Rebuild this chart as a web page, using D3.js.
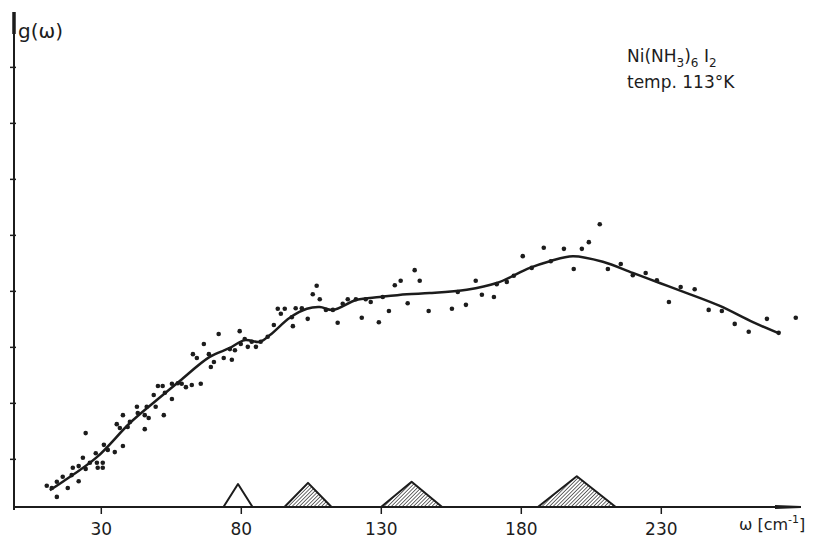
<!DOCTYPE html>
<html>
<head>
<meta charset="utf-8">
<script src="https://cdn.jsdelivr.net/npm/d3@7"></script>
<style>
  body { margin: 0; background: #fff; }
  text { font-family: "DejaVu Sans", sans-serif; fill: #1c1c1c; }
</style>
</head>
<body>
<div id="chart"></div>
<script>
// smoothed g(omega) curve
const curveOmega = [11.8, 16.4, 28.6, 40.4, 50.0, 58.2, 68.9, 76.1, 81.4, 86.8, 90.4, 97.5, 103.6, 108.2, 112.9,
  121.4, 129.6, 139.3, 147.5, 160.7, 171.4, 183.2, 190.4, 198.6, 209.3, 220.0, 229.6, 239.3, 251.1, 262.9, 271.8];
const curveG = [0.30, 0.45, 0.89, 1.50, 1.91, 2.25, 2.68, 2.84, 2.98, 2.95, 3.07, 3.38, 3.54, 3.57, 3.52,
  3.70, 3.75, 3.80, 3.82, 3.88, 4.00, 4.27, 4.39, 4.48, 4.38, 4.18, 4.00, 3.82, 3.59, 3.30, 3.11];

// measured points
const pointOmega = [10.7, 12.5, 14.3, 14.3, 16.4, 18.2, 20.0, 19.6, 22.1, 22.1, 23.6, 24.6, 24.6, 26.1, 28.2, 28.6,
  28.9, 30.7, 30.7, 31.1, 32.5, 35.0, 35.7, 36.8, 37.9, 37.9, 39.6, 40.4, 42.9, 43.2, 45.7, 45.7, 46.4, 47.1,
  48.9, 49.6, 50.4, 52.1, 52.9, 52.5, 55.4, 55.4, 57.5,
  58.9, 60.4, 62.5, 65.7, 62.9, 64.3, 66.8, 68.6, 69.3, 70.4, 72.1, 73.9, 76.8, 76.1, 77.9, 79.6, 80.0, 81.4,
  82.5, 83.9, 85.4, 87.1, 89.6, 91.8, 93.2, 94.3, 95.7, 98.6, 98.2, 99.6, 101.8, 103.9, 105.7, 107.1, 108.2,
  110.4, 112.9, 114.6, 116.4, 118.2, 121.1, 123.2, 124.6, 126.4, 129.3, 130.7, 132.9, 135.0, 137.1, 139.6,
  142.1, 143.9, 147.1,
  155.4, 157.5, 160.4, 163.9, 166.1, 170.4, 171.4, 175.0, 177.5, 180.7, 183.9, 188.2, 190.7, 195.4, 198.9,
  201.8, 204.3, 208.2, 211.1, 215.7, 220.0, 224.6, 228.6, 232.9, 237.1, 242.1, 247.1, 251.8, 256.4, 261.4,
  267.9, 272.1, 278.2];
const pointG = [0.38, 0.34, 0.45, 0.18, 0.54, 0.34, 0.70, 0.57, 0.46, 0.73, 0.88, 0.68, 1.32, 0.79, 0.96, 0.79,
  0.70, 0.79, 0.70, 1.11, 1.02, 0.98, 1.48, 1.41, 1.09, 1.64, 1.43, 1.52, 1.79, 1.68, 1.39, 1.64, 1.79, 1.59,
  2.00, 1.79, 2.16, 2.16, 2.04, 1.64, 1.93, 2.20, 2.21,
  2.20, 2.14, 2.18, 2.20, 2.73, 2.66, 2.91, 2.73, 2.50, 2.59, 3.09, 2.66, 2.63, 2.82, 2.80, 3.14, 2.91, 3.00,
  2.86, 2.95, 2.86, 2.95, 3.04, 3.25, 3.54, 3.45, 3.54, 3.23, 3.39, 3.55, 3.55, 3.36, 3.80, 3.95, 3.71,
  3.52, 3.52, 3.29, 3.63, 3.71, 3.71, 3.38, 3.71, 3.66, 3.30, 3.75, 3.50, 3.96, 4.04, 3.64,
  4.23, 4.04, 3.50,
  3.54, 3.84, 3.61, 4.04, 3.79, 3.75, 3.98, 4.02, 4.13, 4.48, 4.27, 4.63, 4.39, 4.61, 4.25,
  4.61, 4.73, 5.05, 4.25, 4.34, 4.14, 4.18, 4.05, 3.66, 3.93, 3.89, 3.52, 3.50, 3.27, 3.13,
  3.36, 3.11, 3.38];

// optical frequencies marked on the axis
const peakOmega = [79, 104, 141, 200];
const peakHalfWidth = [5.2, 8.4, 10.9, 13.9];
const peakHeight = [0.41, 0.43, 0.45, 0.55];
const peakHatched = [false, true, true, true];

const xTicks = [30, 80, 130, 180, 230];
const yTicks = [0.86, 1.86, 2.86, 3.86, 4.86, 5.86, 6.86, 7.86];

const W = 816, H = 541;
const x = d3.scaleLinear().domain([-1, 280]).range([14, 800.8]);
const y = d3.scaleLinear().domain([0, 8.84]).range([507, 12]);
const ink = '#1c1c1c';

const svg = d3.select('#chart').append('svg')
  .attr('width', W).attr('height', H);

const defs = svg.append('defs');
defs.append('pattern')
  .attr('id', 'hatch')
  .attr('patternUnits', 'userSpaceOnUse')
  .attr('width', 2.6).attr('height', 2.6)
  .attr('patternTransform', 'rotate(45)')
  .append('line')
  .attr('x1', 0).attr('y1', 0).attr('x2', 0).attr('y2', 2.6)
  .attr('stroke', ink).attr('stroke-width', 1.3);

// triangles
const peaks = peakOmega.map((w, i) => ({ w, hw: peakHalfWidth[i], h: peakHeight[i], hatched: peakHatched[i] }));
svg.append('g').selectAll('path')
  .data(peaks)
  .enter().append('path')
  .attr('d', d => `M${x(d.w - d.hw)},${y(0)}L${x(d.w)},${y(d.h)}L${x(d.w + d.hw)},${y(0)}`)
  .attr('fill', d => d.hatched ? 'url(#hatch)' : '#fff')
  .attr('stroke', ink)
  .attr('stroke-width', 2)
  .attr('stroke-linejoin', 'round');

// x axis
const xAxis = svg.append('g')
  .attr('transform', `translate(0, ${y(0)})`)
  .call(d3.axisBottom(x).tickValues(xTicks).tickSize(7).tickPadding(9));
xAxis.select('.domain').remove();
xAxis.selectAll('line').attr('stroke', ink).attr('stroke-width', 1.5);
xAxis.selectAll('text').attr('font-size', 17).attr('fill', ink);

svg.append('line')
  .attr('x1', x(-1)).attr('x2', 796)
  .attr('y1', y(0)).attr('y2', y(0))
  .attr('stroke', ink).attr('stroke-width', 1.8);
svg.append('path')
  .attr('d', `M775,${y(0) - 2}L801,${y(0) - 1}L801,${y(0) + 1}L775,${y(0) + 2}Z`)
  .attr('fill', ink);

// y axis
const yAxis = svg.append('g')
  .attr('transform', `translate(${x(-1) + 2}, 0)`)
  .call(d3.axisLeft(y).tickValues(yTicks).tickSize(6).tickFormat(''));
yAxis.select('.domain').remove();
yAxis.selectAll('line').attr('stroke', ink).attr('stroke-width', 1.5);

svg.append('line')
  .attr('x1', x(-1)).attr('x2', x(-1))
  .attr('y1', 12).attr('y2', y(0) + 3)
  .attr('stroke', ink).attr('stroke-width', 2);
svg.append('line')
  .attr('x1', x(-1)).attr('x2', x(-1))
  .attr('y1', 12).attr('y2', 34)
  .attr('stroke', ink).attr('stroke-width', 3.5);

// points
svg.append('g').selectAll('circle')
  .data(pointOmega.map((w, i) => [w, pointG[i]]))
  .enter().append('circle')
  .attr('cx', d => x(d[0]))
  .attr('cy', d => y(d[1]))
  .attr('r', 2.3)
  .attr('fill', ink);

// smoothed curve
const line = d3.line()
  .x(d => x(d[0]))
  .y(d => y(d[1]))
  .curve(d3.curveCatmullRom.alpha(0.5));
svg.append('path')
  .datum(curveOmega.map((w, i) => [w, curveG[i]]))
  .attr('d', line)
  .attr('fill', 'none')
  .attr('stroke', ink)
  .attr('stroke-width', 2.5);

// labels
svg.append('text')
  .attr('x', 18).attr('y', 38)
  .attr('font-size', 20)
  .text('g(ω)');

const xl = svg.append('text')
  .attr('x', 739).attr('y', 530)
  .attr('font-size', 16);
xl.append('tspan').text('ω [cm');
xl.append('tspan').attr('dy', -7).attr('font-size', 11).text('-1');
xl.append('tspan').attr('dy', 7).text(']');

const t1 = svg.append('text')
  .attr('x', 627).attr('y', 62)
  .attr('font-size', 17);
t1.append('tspan').text('Ni(NH');
t1.append('tspan').attr('dy', 5).attr('font-size', 12).text('3');
t1.append('tspan').attr('dy', -5).text(')');
t1.append('tspan').attr('dy', 5).attr('font-size', 12).text('6');
t1.append('tspan').attr('dy', -5).text(' I');
t1.append('tspan').attr('dy', 5).attr('font-size', 12).text('2');

svg.append('text')
  .attr('x', 627).attr('y', 88)
  .attr('font-size', 17)
  .text('temp. 113°K');
</script>
</body>
</html>
